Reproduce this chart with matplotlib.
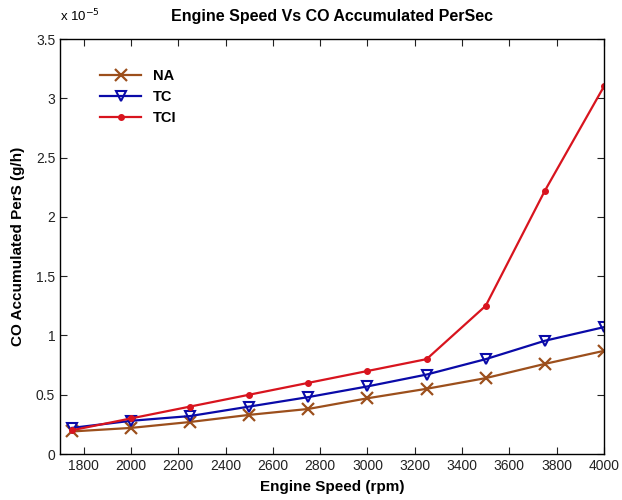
import matplotlib
matplotlib.use("Agg")
import matplotlib.pyplot as plt
from matplotlib.ticker import FuncFormatter

plt.rcParams["font.family"] = ["Liberation Sans Narrow", "Liberation Sans", "DejaVu Sans"]

# engine speed (rpm)
speed = [1750, 2000, 2250, 2500, 2750, 3000, 3250, 3500, 3750, 4000]

# CO accumulated per second, in units of 1e-5 g/h
na = [0.19, 0.22, 0.27, 0.33, 0.38, 0.47, 0.55, 0.64, 0.76, 0.87]
tc = [0.22, 0.28, 0.32, 0.40, 0.48, 0.57, 0.67, 0.80, 0.955, 1.07]
tci = [0.20, 0.30, 0.40, 0.50, 0.60, 0.70, 0.80, 1.25, 2.22, 3.10]

scale = 1e-5

fig = plt.figure(figsize=(6.22, 5.0), dpi=100)
ax = fig.add_axes([0.0965, 0.092, 0.8745, 0.830])

ax.plot(speed, [v * scale for v in na], color="#9c4f1c", lw=1.6,
        marker="x", ms=8, mew=1.6, label="NA")
ax.plot(speed, [v * scale for v in tc], color="#0a0aa8", lw=1.6,
        marker="v", ms=7.5, mew=1.5, mfc="none", label="TC")
ax.plot(speed, [v * scale for v in tci], color="#d8141e", lw=1.6,
        marker=".", ms=8, label="TCI")

ax.set_xlim(1700, 4000)
ax.set_ylim(0, 3.5e-5)
ax.set_xticks(range(1800, 4001, 200))
ax.set_yticks([i * 0.5e-5 for i in range(8)])
ax.yaxis.set_major_formatter(FuncFormatter(lambda v, p: "%g" % round(v / scale, 2)))

ax.tick_params(direction="in", top=True, right=True, length=5, labelsize=10, colors="#222222")
for s in ax.spines.values():
    s.set_linewidth(1.0)

ax.text(0.0, 1.035, r"x 10$^{-5}$", transform=ax.transAxes, fontsize=9.5,
        ha="left", va="bottom")
ax.set_title("Engine Speed Vs CO Accumulated PerSec", fontsize=11.5,
             fontweight="bold", pad=13)
ax.set_xlabel("Engine Speed (rpm)", fontsize=11, fontweight="bold", labelpad=5)
ax.set_ylabel("CO Accumulated PerS (g/h)", fontsize=11, fontweight="bold", labelpad=8)

leg = ax.legend(loc="upper left", bbox_to_anchor=(0.05, 0.96), frameon=False,
                fontsize=10.5, handlelength=2.8, labelspacing=0.5)
for t in leg.get_texts():
    t.set_fontweight("bold")

fig.savefig("out.png", dpi=100)
